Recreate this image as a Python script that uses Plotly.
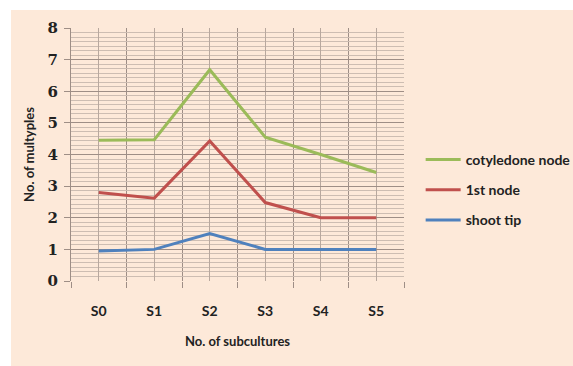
import plotly.graph_objects as go

categories = ["S0", "S1", "S2", "S3", "S4", "S5"]
cotyledone_node = [4.45, 4.47, 6.68, 4.55, 4.0, 3.43]
first_node = [2.8, 2.62, 4.43, 2.48, 2.0, 2.0]
shoot_tip = [0.95, 1.0, 1.5, 1.0, 1.0, 1.0]

series = [
    ("cotyledone node", cotyledone_node, "#9BBB59"),
    ("1st node", first_node, "#C0504D"),
    ("shoot tip", shoot_tip, "#4F81BD"),
]

xs = list(range(len(categories)))
fig = go.Figure()
for name, vals, col in series:
    fig.add_trace(go.Scatter(x=xs, y=vals, name=name, mode="lines", legendgroup=name,
                             line=dict(color=col, width=3)))

W, H = 573, 366
L, R, T, B = 71, 169, 28, 85
bg = "#FDE9D9"

fig.update_layout(
    width=W, height=H,
    margin=dict(l=L, r=R, t=T, b=B, autoexpand=False),
    paper_bgcolor=bg, plot_bgcolor=bg,
    font=dict(family="Lato, Open Sans, sans-serif", color="#222"),
    showlegend=True,
    legend=dict(x=1.05, y=0.36, yanchor="middle", xanchor="left",
                bgcolor="rgba(0,0,0,0)", font=dict(size=14, family="Lato", weight="bold"),
                tracegroupgap=9, itemwidth=35),
    xaxis=dict(
        range=[-0.5, 5.5], tickvals=xs, ticktext=categories,
        showgrid=True, gridcolor="#B8A89E", gridwidth=1, ticks="", showline=False,
        zeroline=False, ticklabelstandoff=20,
        tickfont=dict(size=14, family="Lato", weight="bold"),
        minor=dict(tick0=-0.5, dtick=1, showgrid=True, gridcolor="#9E8E86",
                   ticks="outside", ticklen=6, tickcolor="#9E8E86"),
        title=dict(text="No. of subcultures", font=dict(size=13, family="Lato", weight="bold"), standoff=18),
    ),
    yaxis=dict(
        range=[0, 8], dtick=1, showgrid=True, gridcolor="#9E8E86", gridwidth=1,
        ticks="outside", ticklen=6, tickcolor="#9E8E86", zeroline=False,
        showline=True, linecolor="#9E8E86", ticklabelstandoff=3,
        tickfont=dict(size=15, family="DejaVu Serif", weight="bold"),
        minor=dict(dtick=1/7, showgrid=True, gridcolor="#CDBDB2", gridwidth=1),
        title=dict(text="No. of multyples", font=dict(size=13, family="Lato", weight="bold"), standoff=10),
    ),
)

pw = W - L - R
ph = H - T - B
# white border strips on the top and left
fig.add_shape(type="rect", xref="paper", yref="paper",
              x0=-L / pw, x1=(W - L) / pw, y0=1 + (T - 10) / ph, y1=1 + T / ph + 0.01,
              fillcolor="white", line_width=0, layer="below")
fig.add_shape(type="rect", xref="paper", yref="paper",
              x0=-L / pw - 0.01, x1=-(L - 11) / pw, y0=-B / ph - 0.01, y1=1 + T / ph + 0.01,
              fillcolor="white", line_width=0, layer="below")

fig.write_html("out.html", config={"displayModeBar": False},
               post_script="document.body.style.margin='0';document.body.style.overflow='hidden';")
